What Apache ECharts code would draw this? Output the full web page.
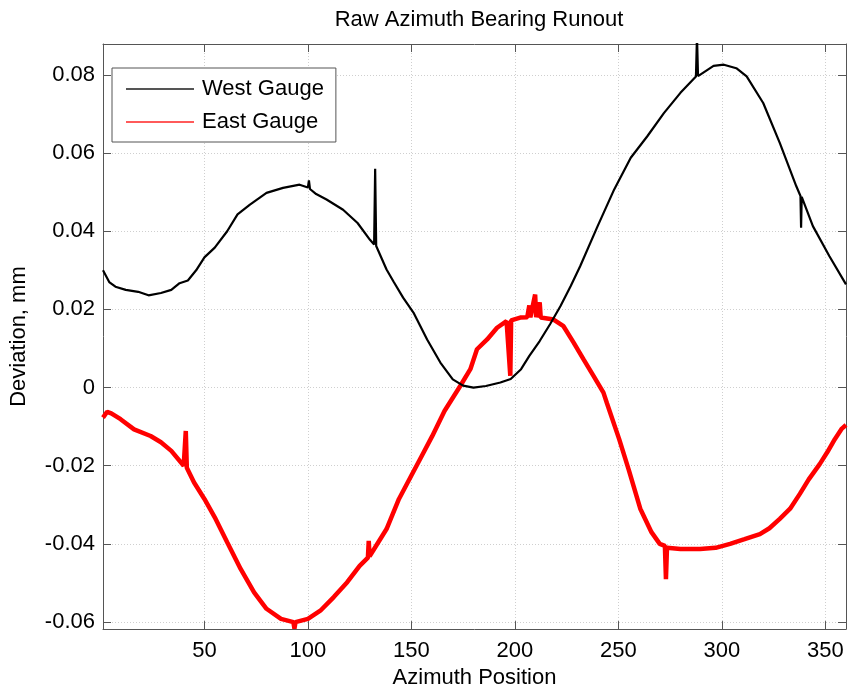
<!DOCTYPE html>
<html>
<head>
<meta charset="utf-8">
<script src="https://cdn.jsdelivr.net/npm/echarts@6/dist/echarts.min.js"></script>
<style>html,body{margin:0;padding:0;background:#fff}#c{width:851px;height:694px}</style>
</head>
<body>
<div id="c"></div>
<script>
var xTicks = [50, 100, 150, 200, 250, 300, 350];
var yTicks = [-0.06, -0.04, -0.02, 0, 0.02, 0.04, 0.06, 0.08];

var westX = [1, 4, 7, 12, 18, 23, 29, 34, 38, 42, 46, 50, 55, 61, 66, 72, 80, 88, 96, 100, 100.5, 101, 104, 109, 117, 124, 130, 132, 132.5, 133, 138, 141.5, 146, 151, 157.6, 164, 170, 175, 180, 186, 193, 198, 203, 207, 212, 217, 222, 227, 231.6, 240, 248, 256, 264, 272, 280, 287.5, 288, 288.5, 296, 301, 307, 312, 320, 328, 336, 338, 338.3, 338.6, 344, 352, 360];
var westY = [0.030, 0.027, 0.0258, 0.025, 0.0245, 0.0236, 0.0242, 0.025, 0.0267, 0.0274, 0.030, 0.0333, 0.0358, 0.040, 0.0443, 0.0468, 0.0498, 0.0511, 0.0519, 0.0512, 0.053, 0.0508, 0.0495, 0.0481, 0.0455, 0.0421, 0.0378, 0.0366, 0.056, 0.0362, 0.0302, 0.027, 0.023, 0.0192, 0.0123, 0.0064, 0.0021, 0.0005, 0.0, 0.0004, 0.0013, 0.0022, 0.0047, 0.0081, 0.0119, 0.0162, 0.0208, 0.026, 0.0311, 0.0413, 0.0507, 0.0588, 0.0643, 0.0702, 0.0754, 0.0796, 0.090, 0.0797, 0.0823, 0.0826, 0.0817, 0.0796, 0.0728, 0.0626, 0.0515, 0.049, 0.0409, 0.0488, 0.0413, 0.0336, 0.0264];

var eastX = [1, 3, 5, 9.5, 16, 24, 29, 34, 40, 41, 41.5, 45, 50, 55, 61, 67.5, 74, 80, 87, 93, 93.5, 94, 100, 106, 112.5, 119, 125, 129, 129.4, 129.8, 132, 138, 144, 150, 155, 160, 166, 173.6, 178.5, 181.7, 186.6, 191.4, 196, 197.8, 198.2, 202.6, 206, 207, 207.5, 209.8, 210.3, 210.7, 212, 212.5, 218.7, 223.5, 228.4, 233.2, 238, 242.8, 244.5, 250.4, 255, 260.6, 266, 270, 272.5, 273, 273.5, 280, 289.5, 297, 304, 311, 318.4, 323, 328, 333, 337.7, 342, 347.3, 351, 354.6, 358, 360];
var eastY = [-0.0077, -0.0062, -0.0066, -0.0081, -0.0107, -0.0124, -0.014, -0.0162, -0.020, -0.0111, -0.0205, -0.0243, -0.0285, -0.0332, -0.0396, -0.0464, -0.0524, -0.0566, -0.0592, -0.060, -0.0617, -0.0600, -0.0592, -0.0571, -0.0536, -0.0498, -0.0456, -0.0435, -0.0392, -0.0432, -0.0413, -0.0362, -0.0285, -0.0225, -0.0175, -0.0125, -0.006, 0.0004, 0.0047, 0.0098, 0.0123, 0.0153, 0.017, 0.003, 0.0172, 0.0179, 0.018, 0.021, 0.018, 0.0238, 0.018, 0.0179, 0.0218, 0.0179, 0.0174, 0.0157, 0.0115, 0.0072, 0.003, -0.0013, -0.004, -0.0132, -0.021, -0.031, -0.037, -0.040, -0.0405, -0.049, -0.041, -0.0413, -0.0413, -0.041, -0.040, -0.0388, -0.0375, -0.036, -0.0336, -0.031, -0.0272, -0.0235, -0.0196, -0.0165, -0.0132, -0.0105, -0.0096];

function pairs(xs, ys) { return xs.map(function (x, i) { return [x, ys[i]]; }); }

var FONT = 'Liberation Sans, Arial, sans-serif';
var axisColor = '#555';
var tickStyle = { show: true, inside: true, length: 8, lineStyle: { color: axisColor, width: 1 } };
var gridLine = { show: true, lineStyle: { color: '#cfcfcf', type: [1, 2], width: 1 } };

var chart = echarts.init(document.getElementById('c'), null, { renderer: 'canvas' });
chart.setOption({
  animation: false,
  backgroundColor: '#fff',
  title: {
    text: 'Raw Azimuth Bearing Runout',
    left: 474, top: 4, textAlign: 'center',
    textStyle: { fontFamily: FONT, fontSize: 22, fontWeight: 'normal', color: '#000' }
  },
  legend: {
    orient: 'vertical',
    left: 112, top: 68,
    padding: [10, 12, 9, 14],
    itemWidth: 68, itemHeight: 2, itemGap: 11,
    backgroundColor: '#fff',
    borderColor: '#555', borderWidth: 1,
    textStyle: { fontFamily: FONT, fontSize: 22, color: '#000', padding: [0, 0, 0, 3] },
    data: [
      { name: 'West Gauge', icon: 'rect', itemStyle: { color: '#555' } },
      { name: 'East Gauge', icon: 'rect', itemStyle: { color: '#ff5a5a' } }
    ]
  },
  grid: { left: 102, right: 5, top: 44, bottom: 63, containLabel: false },
  xAxis: [{
    type: 'value', min: 1, max: 360,
    name: 'Azimuth Position', nameLocation: 'middle', nameGap: 37,
    nameTextStyle: { fontFamily: FONT, fontSize: 22, color: '#000' },
    axisLine: { show: true, onZero: false, lineStyle: { color: axisColor } },
    axisTick: Object.assign({ customValues: xTicks }, tickStyle),
    axisLabel: { customValues: xTicks, fontFamily: FONT, fontSize: 22, color: '#000', margin: 11 },
    splitLine: gridLine
  }, {
    type: 'value', min: 1, max: 360, position: 'top',
    axisLine: { show: true, onZero: false, lineStyle: { color: axisColor } },
    axisTick: Object.assign({ customValues: xTicks }, tickStyle),
    axisLabel: { show: false, customValues: xTicks },
    splitLine: { show: false }
  }],
  yAxis: [{
    type: 'value', min: -0.0618, max: 0.0879,
    name: 'Deviation, mm', nameLocation: 'middle', nameGap: 73,
    nameTextStyle: { fontFamily: FONT, fontSize: 22, color: '#000' },
    axisLine: { show: true, onZero: false, lineStyle: { color: axisColor } },
    axisTick: Object.assign({ customValues: yTicks }, tickStyle),
    axisLabel: {
      customValues: yTicks, fontFamily: FONT, fontSize: 22, color: '#000', margin: 8,
      formatter: function (v) { return Math.abs(v) < 1e-9 ? '0' : (+v).toFixed(2); }
    },
    splitLine: gridLine
  }, {
    type: 'value', min: -0.0618, max: 0.0879, position: 'right',
    axisLine: { show: true, onZero: false, lineStyle: { color: axisColor } },
    axisTick: Object.assign({ customValues: yTicks }, tickStyle),
    axisLabel: { show: false, customValues: yTicks },
    splitLine: { show: false }
  }],
  series: [{
    name: 'West Gauge', type: 'line', xAxisIndex: 0, yAxisIndex: 0,
    data: pairs(westX, westY), symbol: 'none', showSymbol: false,
    lineStyle: { color: '#000', width: 2.2 }, itemStyle: { color: '#000' }, z: 3
  }, {
    name: 'East Gauge', type: 'line', xAxisIndex: 0, yAxisIndex: 0,
    data: pairs(eastX, eastY), symbol: 'none', showSymbol: false,
    lineStyle: { color: '#ff0000', width: 4.5 }, itemStyle: { color: '#ff0000' }, z: 2
  }]
});
</script>
</body>
</html>
